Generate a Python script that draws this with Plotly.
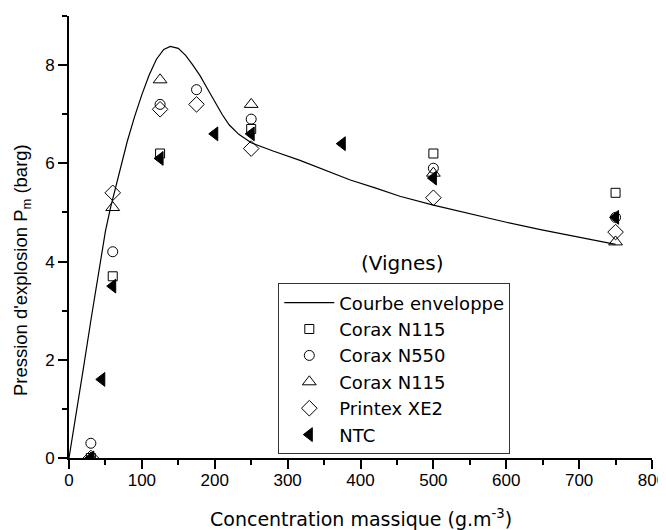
import plotly.graph_objects as go

# Envelope curve
env_x = [0, 10, 20, 30, 40, 50, 57, 63, 70, 80, 90, 100, 110, 120, 130, 139, 150, 160, 170, 180, 190, 200, 210, 220, 228, 233, 250, 280, 317, 350, 386, 420, 454, 500, 550, 600, 647, 700, 750]
env_y = [0, 0.9, 1.85, 2.8, 3.75, 4.62, 5.1, 5.46, 5.9, 6.45, 6.95, 7.4, 7.8, 8.12, 8.32, 8.38, 8.34, 8.2, 8.0, 7.78, 7.52, 7.25, 7.0, 6.78, 6.65, 6.59, 6.42, 6.25, 6.06, 5.87, 5.66, 5.5, 5.33, 5.15, 4.97, 4.8, 4.65, 4.5, 4.35]

# Series
n115a_x = [30, 60, 125, 250, 500, 750]
n115a_y = [0.0, 3.7, 6.2, 6.7, 6.2, 5.4]

n550_x = [30, 60, 125, 175, 250, 500, 750]
n550_y = [0.3, 4.2, 7.2, 7.5, 6.9, 5.9, 4.9]

n115b_x = [30, 60, 125, 250, 500, 750]
n115b_y = [0.0, 5.1, 7.7, 7.2, 5.8, 4.4]

xe2_x = [30, 60, 125, 175, 250, 500, 750]
xe2_y = [0.0, 5.4, 7.1, 7.2, 6.3, 5.3, 4.6]

ntc_x = [30, 45, 60, 125, 200, 250, 375, 500, 750]
ntc_y = [0.0, 1.6, 3.5, 6.1, 6.6, 6.6, 6.4, 5.7, 4.9]

FONT = "Liberation Sans, Arial, Helvetica, sans-serif"
WIDE = "DejaVu Sans, Liberation Sans, sans-serif"


def open_marker(sym, size):
    return dict(symbol=sym, size=size, color="rgba(255,255,255,0)",
                line=dict(color="black", width=1))


fig = go.Figure()
fig.add_trace(go.Scatter(x=env_x, y=env_y, mode="lines", name="Courbe enveloppe",
                         line=dict(color="black", width=1.2)))
fig.add_trace(go.Scatter(x=n115a_x, y=n115a_y, mode="markers", name="Corax N115",
                         marker=open_marker("square", 9)))
fig.add_trace(go.Scatter(x=n550_x, y=n550_y, mode="markers", name="Corax N550",
                         marker=open_marker("circle", 10)))
fig.add_trace(go.Scatter(x=n115b_x, y=n115b_y, mode="markers", name="Corax N115",
                         marker=open_marker("triangle-up", 12)))
fig.add_trace(go.Scatter(x=xe2_x, y=xe2_y, mode="markers", name="Printex XE2",
                         marker=open_marker("diamond", 12)))
fig.add_trace(go.Scatter(x=ntc_x, y=ntc_y, mode="markers", name="NTC",
                         marker=dict(symbol="triangle-left", size=12, color="black",
                                     line=dict(color="black", width=1))))

fig.add_annotation(x=458, y=3.97, xref="x", yref="y", text="(Vignes)",
                   showarrow=False, font=dict(size=20, color="black", family=WIDE))
fig.add_annotation(x=0.5, y=-0.136, xref="paper", yref="paper",
                   text="Concentration massique (g.m<sup>-3</sup>)",
                   showarrow=False, xanchor="center", yanchor="middle",
                   font=dict(size=19, color="black", family=WIDE))
fig.add_annotation(x=-0.0807, y=0.425, xref="paper", yref="paper",
                   text="Pression d'explosion P<sub>m</sub> (barg)", textangle=-90,
                   showarrow=False, xanchor="center", yanchor="middle",
                   font=dict(size=18.5, color="black", family=FONT))

axis_common = dict(showline=True, linecolor="black", linewidth=2, mirror=False,
                   ticks="outside", ticklen=9, tickwidth=1.5, tickcolor="black",
                   showgrid=False, zeroline=False, automargin=False,
                   tickfont=dict(size=17, color="black", family=FONT),
                   minor=dict(ticks="outside", ticklen=5, tickwidth=1.5, tickcolor="black", showgrid=False))

fig.update_xaxes(range=[0, 800], dtick=100, tick0=0, ticklabelstandoff=-3, **axis_common)
fig.update_layout(xaxis_minor_dtick=50)
fig.update_yaxes(range=[0, 9], dtick=2, tick0=0, **axis_common)
fig.update_layout(yaxis_minor_dtick=1)

fig.update_layout(
    width=666, height=530,
    margin=dict(l=61, r=22, t=8, b=80),
    plot_bgcolor="white", paper_bgcolor="white",
    font=dict(family=FONT, color="black", size=18),
    legend=dict(x=0.359, y=0.395, xanchor="left", yanchor="top",
                bordercolor="#333333", borderwidth=1, bgcolor="white",
                font=dict(size=18, color="black", family=WIDE),
                tracegroupgap=0, itemwidth=50),
    showlegend=True,
)

fig.write_html("out.html")
